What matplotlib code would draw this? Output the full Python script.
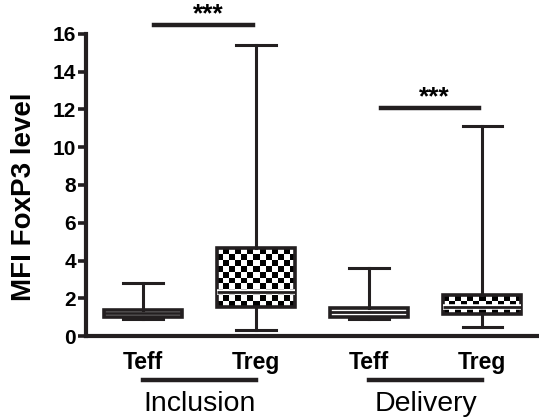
import numpy as np
import matplotlib.pyplot as plt
import matplotlib.patheffects as pe

plt.rcParams['font.family'] = ['Liberation Sans', 'DejaVu Sans']

# data
groups = ["Inclusion", "Delivery"]
cells = ["Teff", "Treg", "Teff", "Treg"]
whislo = [0.9, 0.32, 0.9, 0.48]
q1 = [1.0, 1.53, 1.0, 1.17]
med = [1.2, 2.33, 1.27, 1.53]
q3 = [1.38, 4.65, 1.5, 2.17]
whishi = [2.8, 15.4, 3.6, 11.1]
sig_y = [16.45, 12.06]
sig_txt = ["***", "***"]

pos = [1, 2, 3, 4]
w = 0.69
ink = '#231f20'

fig = plt.figure(figsize=(5.39, 4.18), dpi=100)
ax = fig.add_axes([0.16, 0.196, 0.84, 0.723])

stats = []
for i in range(4):
    stats.append(dict(whislo=whislo[i], q1=q1[i], med=med[i], q3=q3[i],
                      whishi=whishi[i], fliers=[]))

bp = ax.bxp(stats, positions=pos, widths=w, patch_artist=True,
            showfliers=False, capwidths=0.35,
            boxprops=dict(facecolor='white', edgecolor=ink, linewidth=2.6, zorder=2),
            medianprops=dict(color=ink, linewidth=2),
            whiskerprops=dict(color=ink, linewidth=2.2),
            capprops=dict(color=ink, linewidth=2.2))

# checkerboard fill for Treg boxes
cx = 6 / 113.25
cy = 6 / 18.9
for i in [1, 3]:
    box = bp['boxes'][i]
    box.set_facecolor('none')
    x0, x1 = pos[i] - w / 2, pos[i] + w / 2
    nx = int(round((x1 - x0) / cx))
    ny = max(2, int(round((q3[i] - q1[i]) / cy)))
    yy, xx = np.indices((ny, nx))
    board = (xx + yy) % 2
    im = ax.imshow(board, cmap='gray', extent=[x0, x1, q1[i], q3[i]],
                   aspect='auto', interpolation='nearest', zorder=1.5,
                   origin='lower')
    im.set_clip_path(box)
    m = bp['medians'][i]
    m.set_path_effects([pe.Stroke(linewidth=4, foreground='white'), pe.Normal()])
    m.set_zorder(3)

ax.set_xlim(0.5, 4.5)
ax.set_ylim(0, 16)
ax.set_yticks(range(0, 17, 2))
ax.set_xticks(pos)
ax.set_xticklabels(cells, fontsize=16.5, fontweight='bold')
ax.tick_params(axis='x', length=0, pad=11)
ax.tick_params(axis='y', length=6, width=2.6, labelsize=15, pad=1.5, color=ink)
for t in ax.get_yticklabels():
    t.set_fontweight('bold')
for s in ['top', 'right']:
    ax.spines[s].set_visible(False)
for s in ['left', 'bottom']:
    ax.spines[s].set_linewidth(3)
    ax.spines[s].set_color(ink)
ax.set_ylabel("MFI FoxP3 level", fontsize=20, fontweight='bold', va='center')
ax.yaxis.set_label_coords(-0.137, 0.46)

# significance bars
for g in range(2):
    a, b = pos[2 * g] + 0.1, pos[2 * g + 1] - 0.03
    ax.plot([a, b], [sig_y[g], sig_y[g]], color=ink, lw=3.2, clip_on=False)
    ax.text((a + b) / 2 + 0.04, sig_y[g] - 0.05, sig_txt[g], ha='center', va='bottom',
            fontsize=19, fontweight='bold')

# group brackets under the axis
for g in range(2):
    a, b = pos[2 * g], pos[2 * g + 1]
    ax.plot([a, b], [-2.33, -2.33], color=ink, lw=3.2, clip_on=False)
    ax.text((a + b) / 2, -3.6, groups[g], ha='center', va='center', fontsize=20.5)

fig.savefig("out.png", dpi=100)
